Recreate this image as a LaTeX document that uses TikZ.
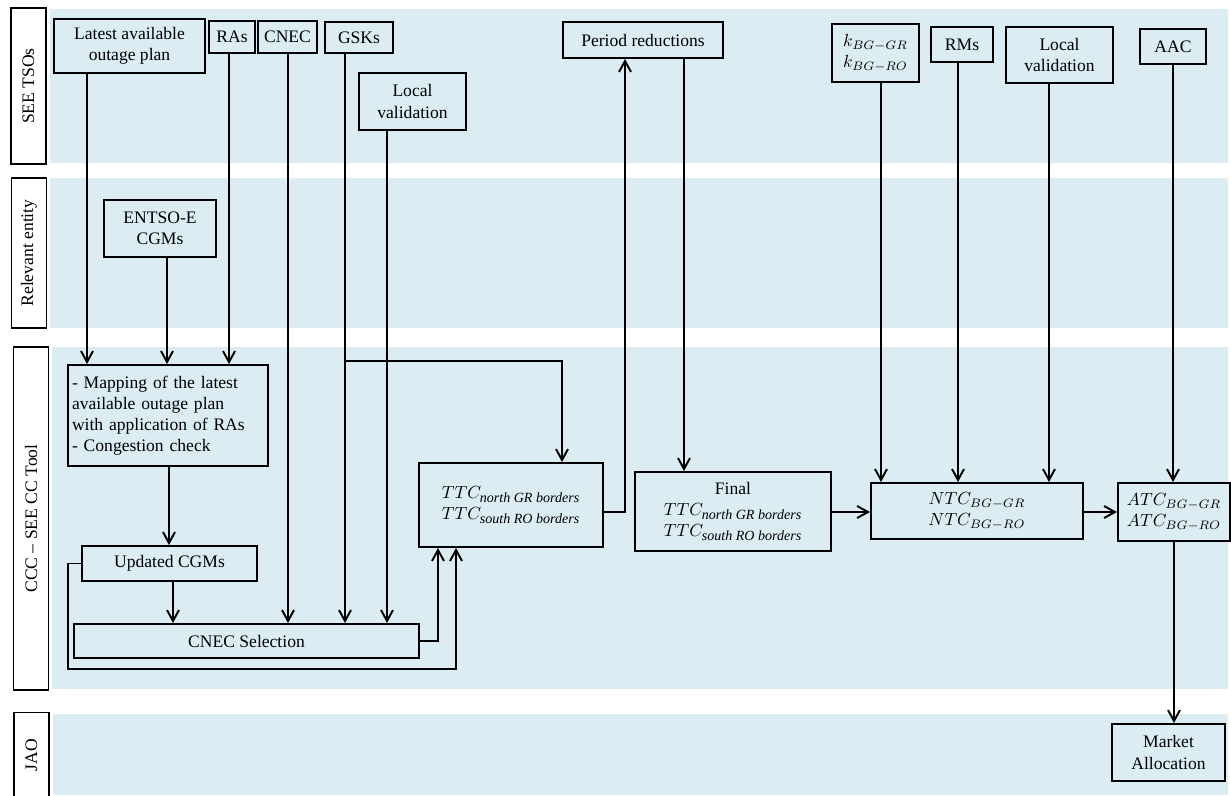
\documentclass[tikz,border=0pt]{standalone}
\usepackage{fontspec}
\setmainfont{Liberation Serif}
\usepackage{amsmath}
\usetikzlibrary{arrows.meta}
\definecolor{lanebg}{RGB}{219,237,243}
\tikzstyle{lane} = [fill=lanebg]
\tikzstyle{who} = [draw, rectangle, fill=white, line width=0.9pt, minimum height=0.7cm, inner sep=0pt, rotate=90, text=black]
\tikzstyle{box} = [draw, rectangle, fill=lanebg, line width=1.1pt, align=center, inner sep=0pt, text=black]
\tikzstyle{arr} = [draw, line width=1.1pt, -{Straight Barb[length=2.2mm,width=2.4mm]}]
\newcommand{\bsub}[1]{\mbox{\footnotesize\itshape #1}}

\begin{document}
\begin{tikzpicture}[x=0.02cm, y=-0.02cm]
    \clip (0,0) rectangle (1231,795);

    \fill [lane] (50,9) rectangle (1228,163);
    \fill [lane] (50,178) rectangle (1228,328);
    \fill [lane] (52,347) rectangle (1228,689);
    \fill [lane] (53,714) rectangle (1228,795);

    \node [who, minimum width=3.12cm] (t1) at (28.5,86) {SEE TSOs};
    \node [who, minimum width=3.0cm] (t2) at (29,253) {Relevant entity};
    \node [who, minimum width=6.86cm] (t3) at (31,518.5) {CCC -- SEE CC Tool};
    \node [who, minimum width=1.7cm] (t4) at (31.5,755) {JAO};

    \node [box, minimum width=3.02cm, minimum height=1.08cm] (lat) at (129.5,46) {Latest available\\outage plan};
    \node [box, minimum width=0.92cm, minimum height=0.64cm] (ras) at (232,37) {RAs};
    \node [box, minimum width=1.18cm, minimum height=0.64cm] (cnec) at (287.5,37) {CNEC};
    \node [box, minimum width=1.36cm, minimum height=0.62cm] (gsk) at (359,37.5) {GSKs};
    \node [box, minimum width=2.14cm, minimum height=1.14cm] (lv1) at (412.5,101.5) {Local\\validation};
    \node [box, minimum width=3.2cm, minimum height=0.72cm] (per) at (643,40) {Period reductions};
    \node [box, minimum width=1.74cm, minimum height=1.16cm] (kf) at (875.5,53) {$k_{BG{-}GR}$\\$k_{BG{-}RO}$};
    \node [box, minimum width=1.24cm, minimum height=0.7cm] (rms) at (962,44.5) {RMs};
    \node [box, minimum width=2.14cm, minimum height=1.12cm] (lv2) at (1059.5,55) {Local\\validation};
    \node [box, minimum width=1.32cm, minimum height=0.7cm] (aac) at (1173,46.5) {AAC};

    \node [box, minimum width=2.24cm, minimum height=1.14cm] (ent) at (160,228.5) {ENTSO-E\\CGMs};

    \node [box, align=left, text width=3.84cm, inner sep=0.08cm, minimum height=2.02cm] (map) at (168,415.5) {- Mapping of the latest\\available outage plan\\with application of RAs\\- Congestion check};
    \node [box, minimum width=3.5cm, minimum height=0.7cm] (upd) at (169.5,563.5) {Updated CGMs};
    \node [box, minimum width=6.9cm, minimum height=0.68cm] (sel) at (246.5,641) {CNEC Selection};
    \node [box, align=left, minimum width=3.68cm, minimum height=1.68cm] (ttc) at (511,505) {$TTC_{\bsub{north GR borders}}$\\$TTC_{\bsub{south RO borders}}$};
    \node [box, minimum width=3.92cm, minimum height=1.58cm] (fin) at (733,511.5) {Final\\$TTC_{\bsub{north GR borders}}$\\$TTC_{\bsub{south RO borders}}$};
    \node [box, minimum width=4.24cm, minimum height=1.12cm] (ntc) at (977,511) {$NTC_{BG{-}GR}$\\$NTC_{BG{-}RO}$};
    \node [box, minimum width=2.24cm, minimum height=1.16cm] (atc) at (1174,512) {$ATC_{BG{-}GR}$\\$ATC_{BG{-}RO}$};

    \node [box, minimum width=2.26cm, minimum height=1.14cm] (mkt) at (1168.5,752.5) {Market\\Allocation};

    \coordinate (xlat) at (87,0);
    \coordinate (xent) at (167,0);
    \coordinate (xras) at (229,0);
    \coordinate (xcn) at (288,0);
    \coordinate (xgsk) at (345,0);
    \coordinate (xlv1) at (387,0);
    \coordinate (xm1) at (169,0);
    \coordinate (xm2) at (173,0);
    \coordinate (xttc) at (562,0);
    \coordinate (xpu) at (625,0);
    \coordinate (xpd) at (684,0);
    \coordinate (xkf) at (881,0);
    \coordinate (xrms) at (958,0);
    \coordinate (xlv2) at (1049,0);
    \coordinate (xl) at (68,0);
    \coordinate (xs1) at (438,0);
    \coordinate (xs2) at (456,0);
    \coordinate (yg) at (0,361);
    \coordinate (ym) at (0,512);
    \coordinate (yb) at (0,669);

    \draw [arr] (lat.south -| xlat) -- (map.north -| xlat);
    \draw [arr] (ent.south -| xent) -- (map.north -| xent);
    \draw [arr] (ras.south -| xras) -- (map.north -| xras);
    \draw [arr] (cnec.south -| xcn) -- (sel.north -| xcn);
    \draw [arr] (gsk.south -| xgsk) -- (sel.north -| xgsk);
    \draw [arr] (xgsk |- yg) -| (ttc.north -| xttc);
    \draw [arr] (lv1.south -| xlv1) -- (sel.north -| xlv1);

    \draw [arr] (map.south -| xm1) -- (upd.north -| xm1);
    \draw [arr] (upd.south -| xm2) -- (sel.north -| xm2);
    \draw [arr] (sel.east) -| (ttc.south -| xs1);
    \draw [arr] (upd.west) -- (xl |- upd.west) |- (xs2 |- yb) -- (ttc.south -| xs2);

    \draw [arr] (ttc.east |- ym) -| (per.south -| xpu);
    \draw [arr] (per.south -| xpd) -- (fin.north -| xpd);
    \draw [arr] (fin.east |- ym) -- (ntc.west |- ym);

    \draw [arr] (kf.south -| xkf) -- (ntc.north -| xkf);
    \draw [arr] (rms.south -| xrms) -- (ntc.north -| xrms);
    \draw [arr] (lv2.south -| xlv2) -- (ntc.north -| xlv2);
    \draw [arr] (ntc.east |- ym) -- (atc.west |- ym);

    \draw [arr] (aac.south) -- (aac.south |- atc.north);
    \draw [arr] (atc.south) -- (atc.south |- mkt.north);
\end{tikzpicture}
\end{document}
